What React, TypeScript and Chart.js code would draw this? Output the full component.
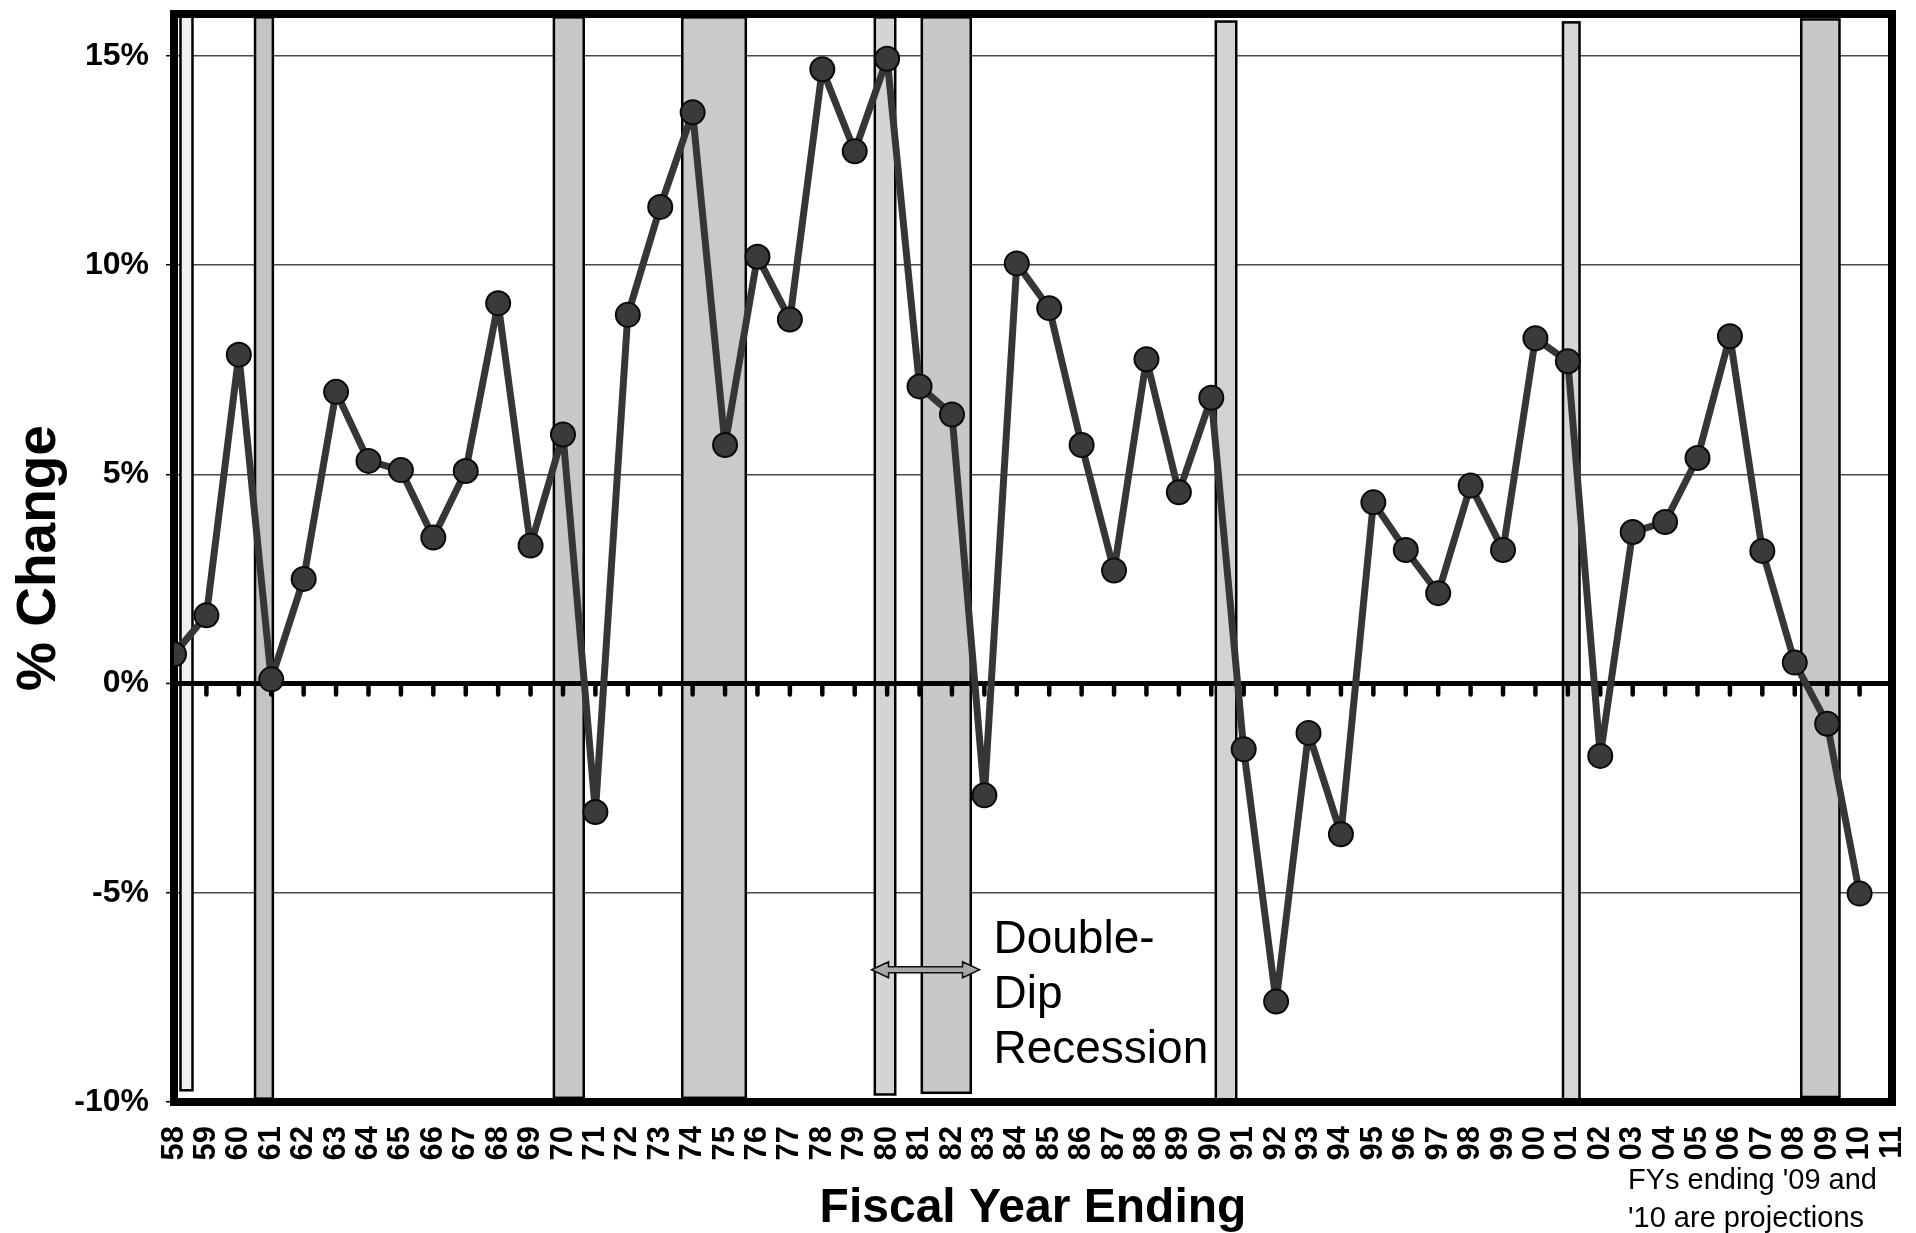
import React, { useEffect, useRef } from "react";
import { Chart, registerables } from "chart.js";

Chart.register(...registerables);

// ---------- DATA ----------
const fiscalYears = [
  1958, 1959, 1960, 1961, 1962, 1963, 1964, 1965, 1966, 1967,
  1968, 1969, 1970, 1971, 1972, 1973, 1974, 1975, 1976, 1977,
  1978, 1979, 1980, 1981, 1982, 1983, 1984, 1985, 1986, 1987,
  1988, 1989, 1990, 1991, 1992, 1993, 1994, 1995, 1996, 1997,
  1998, 1999, 2000, 2001, 2002, 2003, 2004, 2005, 2006, 2007,
  2008, 2009, 2010,
];

const pctChange = [
  0.7, 1.63, 7.86, 0.1, 2.5, 6.97, 5.32, 5.1, 3.49, 5.08,
  9.09, 3.3, 5.95, -3.07, 8.81, 11.39, 13.65, 5.7, 10.2, 8.7,
  14.68, 12.72, 14.93, 7.1, 6.43, -2.67, 10.04, 8.97, 5.7, 2.7,
  7.75, 4.57, 6.83, -1.57, -7.6, -1.18, -3.6, 4.33, 3.19, 2.16,
  4.73, 3.19, 8.25, 7.7, -1.73, 3.62, 3.86, 5.39, 8.3, 3.17,
  0.5, -0.96, -5.02,
];

// recession periods (fractional fiscal years) and shaded extents (% axis)
const recessionStart = [1958.2, 1960.5, 1969.72, 1973.68, 1979.62, 1981.07, 1990.14, 2000.85, 2008.2];
const recessionEnd = [1958.57, 1961.05, 1970.64, 1975.64, 1980.25, 1982.58, 1990.77, 2001.36, 2009.38];
const recessionTop = [16, 15.92, 15.92, 15.92, 15.92, 15.92, 15.82, 15.8, 15.87];
const recessionBottom = [-9.72, -9.92, -9.9, -9.9, -9.82, -9.78, -9.95, -9.98, -9.88];

const xAxisFirst = 1958;
const xAxisLast = 2011;
const yAxisMin = -10;
const yAxisMax = 16;
const yAxisStep = 5;

const yAxisTitle = "% Change";
const xAxisTitle = "Fiscal Year Ending";
const annotationLines = ["Double-", "Dip", "Recession"];
const noteLines = ["FYs ending '09 and", "'10 are projections"];

// ---------- STYLE ----------
const recessionShade = ["#f0f0f0", "#c4c4c4", "#c8c8c8", "#cacaca", "#d4d4d4", "#c8c8c8", "#d2d2d2", "#d6d6d6", "#c8c8c8"];
const FONT = '"Liberation Sans", Arial, sans-serif';

const overlayPlugin = {
  id: "overlay",
  beforeDatasetsDraw(chart: any) {
    const { ctx, chartArea: a, scales } = chart;
    const x = scales.x;
    const y = scales.y;
    ctx.save();

    // recession bars
    recessionStart.forEach((s, i) => {
      const x0 = x.getPixelForValue(s);
      const x1 = x.getPixelForValue(recessionEnd[i]);
      const y0 = y.getPixelForValue(recessionTop[i]);
      const y1 = y.getPixelForValue(recessionBottom[i]);
      ctx.fillStyle = recessionShade[i];
      ctx.fillRect(x0, y0, x1 - x0, y1 - y0);
      ctx.lineWidth = 2.5;
      ctx.strokeStyle = "#000";
      ctx.strokeRect(x0, y0, x1 - x0, y1 - y0);
    });

    // zero line
    const zy = y.getPixelForValue(0);
    ctx.beginPath();
    ctx.moveTo(a.left, zy);
    ctx.lineTo(a.right, zy);
    ctx.lineWidth = 5;
    ctx.strokeStyle = "#000";
    ctx.stroke();

    // category tick marks hanging from the zero line
    ctx.beginPath();
    ctx.lineCap = "round";
    ctx.lineWidth = 4.5;
    fiscalYears.slice(1).forEach((yr) => {
      const px = x.getPixelForValue(yr);
      ctx.moveTo(px, zy);
      ctx.lineTo(px, zy + 11);
    });
    ctx.stroke();
    ctx.lineCap = "butt";

    // plot frame
    ctx.lineWidth = 8;
    ctx.strokeStyle = "#000";
    ctx.strokeRect(a.left, a.top, a.right - a.left, a.bottom - a.top);

    // double-headed arrow
    const ax0 = x.getPixelForValue(1979.52);
    const ax1 = x.getPixelForValue(1982.85);
    const ay = y.getPixelForValue(-6.84);
    const hl = 17, hh = 8, sh = 3;
    ctx.beginPath();
    ctx.moveTo(ax0, ay);
    ctx.lineTo(ax0 + hl, ay - hh);
    ctx.lineTo(ax0 + hl, ay - sh);
    ctx.lineTo(ax1 - hl, ay - sh);
    ctx.lineTo(ax1 - hl, ay - hh);
    ctx.lineTo(ax1, ay);
    ctx.lineTo(ax1 - hl, ay + hh);
    ctx.lineTo(ax1 - hl, ay + sh);
    ctx.lineTo(ax0 + hl, ay + sh);
    ctx.lineTo(ax0 + hl, ay + hh);
    ctx.closePath();
    ctx.fillStyle = "#a8a8a8";
    ctx.fill();
    ctx.lineWidth = 1.5;
    ctx.strokeStyle = "#111";
    ctx.stroke();

    // annotation text
    ctx.fillStyle = "#000";
    ctx.font = `46px ${FONT}`;
    ctx.textAlign = "left";
    ctx.textBaseline = "alphabetic";
    const tx = x.getPixelForValue(1983.28);
    const baseVals = [-6.44, -7.75, -9.06];
    annotationLines.forEach((t, i) => {
      ctx.fillText(t, tx, y.getPixelForValue(baseVals[i]));
    });

    ctx.restore();
  },
  afterDraw(chart: any) {
    const { ctx } = chart;
    ctx.save();
    ctx.fillStyle = "#000";
    ctx.font = `29px ${FONT}`;
    ctx.textAlign = "left";
    ctx.textBaseline = "alphabetic";
    ctx.fillText(noteLines[0], 1628, 1189);
    ctx.fillText(noteLines[1], 1628, 1227);
    ctx.restore();
  },
};

export default function App() {
  const canvasRef = useRef<HTMLCanvasElement | null>(null);

  useEffect(() => {
    const canvas = canvasRef.current;
    if (!canvas) return;
    const points = fiscalYears.map((yr, i) => ({ x: yr, y: pctChange[i] }));

    const chart = new Chart(canvas, {
      type: "line",
      data: {
        datasets: [
          {
            data: points,
            borderColor: "#363636",
            borderWidth: 7,
            borderJoinStyle: "round",
            pointRadius: 12,
            pointBackgroundColor: "#3a3a3a",
            pointBorderColor: "#0a0a0a",
            pointBorderWidth: 2,
            tension: 0,
            fill: false,
          },
        ],
      },
      options: {
        responsive: false,
        animation: false,
        devicePixelRatio: 1,
        layout: { padding: { top: 9, right: 24, left: 0, bottom: 0 } },
        plugins: {
          legend: { display: false },
          tooltip: { enabled: false },
        },
        scales: {
          x: {
            type: "linear",
            min: xAxisFirst,
            max: xAxisLast,
            border: { display: false },
            grid: { display: false, drawTicks: false },
            ticks: {
              stepSize: 1,
              autoSkip: false,
              maxTicksLimit: 200,
              minRotation: 90,
              maxRotation: 90,
              padding: 24,
              color: "#000",
              font: { family: FONT, size: 31, weight: "bold" },
              callback: (v: any) => String(Number(v) % 100).padStart(2, "0"),
            },
            title: {
              display: true,
              text: xAxisTitle,
              color: "#000",
              font: { family: FONT, size: 48, weight: "bold", lineHeight: 1 },
              padding: { top: 0, bottom: 0 },
            },
            afterFit: (scale: any) => {
              scale.height = 131;
              scale.paddingLeft = 0;
              scale.paddingRight = 0;
            },
          },
          y: {
            type: "linear",
            min: yAxisMin,
            max: yAxisMax,
            border: { display: false },
            grid: {
              color: (c: any) => (c.tick && c.tick.value === 0 ? "#000" : "#4a4a4a"),
              lineWidth: (c: any) => (c.tick && c.tick.value === 0 ? 5 : 1.5),
              tickLength: 8,
              tickColor: "#000",
              tickWidth: 1.5,
            },
            ticks: {
              stepSize: yAxisStep,
              includeBounds: false,
              padding: 17,
              color: "#000",
              font: { family: FONT, size: 32, weight: "bold" },
              callback: (v: any) => `${v}%`,
            },
            title: {
              display: true,
              text: yAxisTitle,
              color: "#000",
              font: { family: FONT, size: 55, weight: "bold", lineHeight: 1 },
              padding: { top: 12, bottom: 0 },
            },
            afterFit: (scale: any) => {
              scale.width = 174;
              scale.paddingTop = 0;
              scale.paddingBottom = 0;
            },
          },
        },
      },
      plugins: [overlayPlugin],
    } as any);

    return () => chart.destroy();
  }, []);

  return (
    <div style={{ position: "fixed", left: 0, top: 0, width: 1916, height: 1233, background: "#fff" }}>
      <canvas ref={canvasRef} width={1916} height={1233} style={{ width: 1916, height: 1233, display: "block" }} />
    </div>
  );
}
